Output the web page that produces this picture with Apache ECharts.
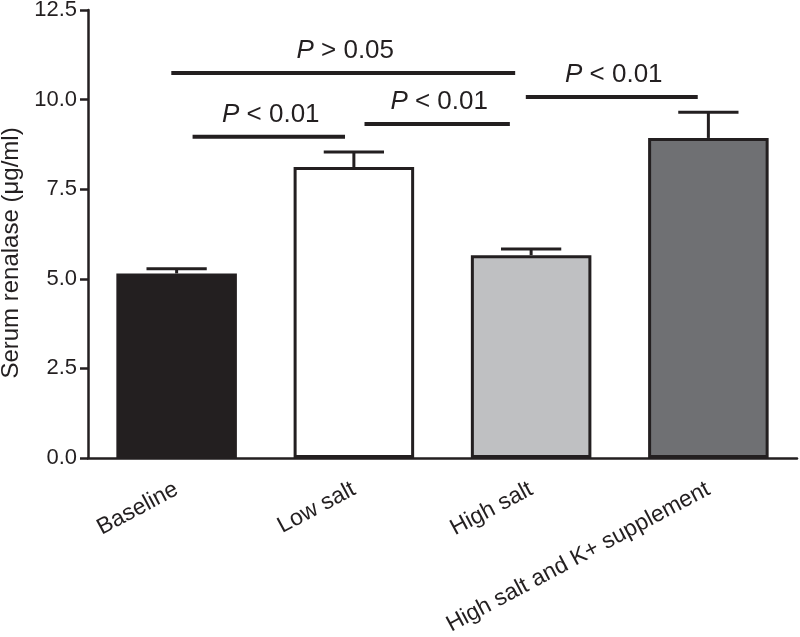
<!DOCTYPE html>
<html>
<head>
<meta charset="utf-8">
<script src="https://cdn.jsdelivr.net/npm/echarts@6/dist/echarts.min.js"></script>
<style>
html,body{margin:0;padding:0;background:#fff;}
#chart{width:800px;height:637px;}
</style>
</head>
<body>
<div id="chart"></div>
<script>
// ---- data ----
var categories = ['Baseline', 'Low salt', 'High salt', 'High salt and K+ supplement'];
var means = [5.15, 8.12, 5.66, 8.93];
var sems = [0.13, 0.42, 0.17, 0.72];
var barColors = ['#231f20', '#ffffff', '#bfc0c2', '#6f7073'];
var yTicks = [0, 2.5, 5.0, 7.5, 10.0, 12.5];
// significance brackets (x in category-index units)
var sigStart = [-0.03, 0.09, 1.06, 1.97];
var sigEnd = [1.91, 0.95, 1.88, 2.94];
var sigLevel = [10.74, 8.96, 9.32, 10.07];
var sigText = ['> 0.05', '< 0.01', '< 0.01', '< 0.01'];

var FONT = '"Liberation Sans", Arial, Helvetica, sans-serif';
var INK = '#231f20';

var chart = echarts.init(document.getElementById('chart'), null, {renderer: 'canvas'});

var barData = means.map(function (v, i) {
  return {
    value: v,
    itemStyle: {color: barColors[i], borderColor: INK, borderWidth: 3}
  };
});
var errData = means.map(function (v, i) { return [i, v, sems[i]]; });
var sigData = sigStart.map(function (s, i) { return [s, sigEnd[i], sigLevel[i], sigText[i]]; });

var option = {
  backgroundColor: '#ffffff',
  animation: false,
  grid: {left: 88, right: 3, top: 10, bottom: 179, containLabel: false, outerBoundsMode: 'none'},
  xAxis: [{
    type: 'category',
    data: categories,
    axisLine: {onZero: false, lineStyle: {color: INK, width: 2.5}},
    axisTick: {alignWithLabel: true, length: 9, lineStyle: {color: INK, width: 2.5}},
    axisLabel: {rotate: 28, margin: 30, color: INK, fontSize: 23, fontFamily: FONT, interval: 0},
    splitLine: {show: false}
  }, {
    type: 'value',
    min: -0.5, max: 3.5,
    show: false
  }],
  yAxis: {
    type: 'value',
    min: 0, max: 12.5, interval: 2.5,
    name: 'Serum renalase (\u03bcg/ml)',
    nameLocation: 'middle',
    nameGap: 56,
    nameTextStyle: {fontSize: 24, color: INK, fontFamily: FONT, padding: [0, 38, 0, 0]},
    axisLine: {show: true, onZero: false, lineStyle: {color: INK, width: 2.5}},
    axisTick: {show: true, length: 8, lineStyle: {color: INK, width: 2.5}},
    axisLabel: {
      color: INK, fontSize: 22, fontFamily: FONT, margin: 11,
      formatter: function (v) { return v.toFixed(1); }
    },
    splitLine: {show: false}
  },
  series: [{
    type: 'bar',
    data: barData,
    barWidth: '68%',
    xAxisIndex: 0
  }, {
    type: 'custom',
    xAxisIndex: 0,
    data: errData,
    z: 3,
    renderItem: function (params, api) {
      var x = api.value(0), m = api.value(1), e = api.value(2);
      var p0 = api.coord([x, m]);
      var p1 = api.coord([x, m + e]);
      var half = api.size([1, 0])[0] * 0.17;
      var st = {stroke: INK, lineWidth: 3};
      return {
        type: 'group',
        children: [
          {type: 'line', shape: {x1: p0[0], y1: p0[1], x2: p1[0], y2: p1[1]}, style: st},
          {type: 'line', shape: {x1: p1[0] - half, y1: p1[1], x2: p1[0] + half, y2: p1[1]}, style: st}
        ]
      };
    }
  }, {
    type: 'custom',
    xAxisIndex: 1,
    data: sigData,
    z: 4,
    renderItem: function (params, api) {
      var a = api.coord([api.value(0), api.value(2)]);
      var b = api.coord([api.value(1), api.value(2)]);
      var txt = sigText[params.dataIndex];
      return {
        type: 'group',
        children: [
          {type: 'line', shape: {x1: a[0], y1: a[1], x2: b[0], y2: b[1]}, style: {stroke: INK, lineWidth: 4}},
          {type: 'text', x: (a[0] + b[0]) / 2 + 2, y: a[1] - 22,
            style: {
              text: '{i|P} ' + txt,
              align: 'center', verticalAlign: 'middle',
              fill: INK,
              fontSize: 26, fontFamily: FONT,
              rich: {i: {fontStyle: 'italic', fontSize: 26, fontFamily: FONT, fill: INK}}
            }}
        ]
      };
    }
  }]
};
chart.setOption(option);
</script>
</body>
</html>
